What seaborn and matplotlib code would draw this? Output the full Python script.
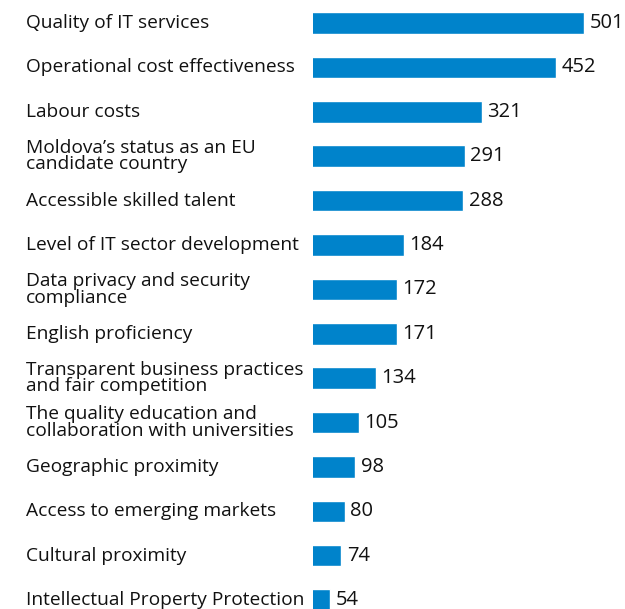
import matplotlib
matplotlib.use("Agg")
import matplotlib.pyplot as plt
import matplotlib.transforms as mtransforms
import numpy as np
import pandas as pd
import seaborn as sns

factors = [
    "Quality of IT services",
    "Operational cost effectiveness",
    "Labour costs",
    "Moldova\u2019s status as an EU\ncandidate country",
    "Accessible skilled talent",
    "Level of IT sector development",
    "Data privacy and security\ncompliance",
    "English proficiency",
    "Transparent business practices\nand fair competition",
    "The quality education and\ncollaboration with universities",
    "Geographic proximity",
    "Access to emerging markets",
    "Cultural proximity",
    "Intellectual Property Protection",
]
counts = [501, 452, 321, 291, 288, 184, 172, 171, 134, 105, 98, 80, 74, 54]

BAR_COLOR = "#0083CB"

sns.set_style("white")
plt.rcParams["font.family"] = ["Open Sans", "DejaVu Sans"]

df = pd.DataFrame({"factor": factors, "count": counts})

fig = plt.figure(figsize=(6.25, 6.09), dpi=100)
ax = fig.add_axes([313 / 625, 0, 1 - 313 / 625, 1])

sns.barplot(data=df, x="count", y="factor", orient="h", color=BAR_COLOR,
            saturation=1, width=0.485, ax=ax)

# axis is cut a bit above zero in the original
ax.set_xlim(24, 573)
ax.set_ylim(13.2, -0.518)

ax.bar_label(ax.containers[0], labels=[str(c) for c in counts], padding=4,
             fontsize=14.5, color="#111111")

# category labels, left aligned at the figure edge
trans = mtransforms.blended_transform_factory(fig.transFigure, ax.transData)
for i, name in enumerate(factors):
    ax.text(26 / 625, i, name, transform=trans, ha="left", va="center",
            fontsize=13.8, color="#111111", linespacing=0.88)

ax.set_xlabel("")
ax.set_ylabel("")
ax.set_xticks([])
ax.set_yticks([])
sns.despine(ax=ax, left=True, bottom=True)

fig.savefig("out.png", dpi=100)
